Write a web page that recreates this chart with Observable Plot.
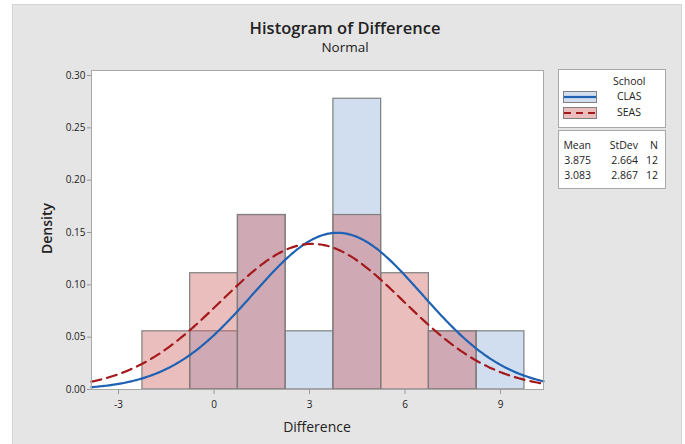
<!DOCTYPE html>
<html>
<head>
<meta charset="utf-8">
<script src="https://cdn.jsdelivr.net/npm/d3@7"></script>
<script src="https://cdn.jsdelivr.net/npm/@observablehq/plot@0.6"></script>
<style>
  body { margin: 0; background: #ffffff; font-family: "Open Sans", "Noto Sans", sans-serif; color: #222; }
  #wrap { position: relative; width: 685px; height: 444px; overflow: hidden; }
  #bg { position: absolute; left: 12px; top: 4px; width: 668px; height: 444px; background: #e5e5e5; border-left: 1px solid #d4d4d4; border-top: 1px solid #d4d4d4; border-right: 1px solid #d4d4d4; }
  .abs { position: absolute; white-space: nowrap; }
  .box { position: absolute; background: #fff; border: 1px solid #a8a8a8; }
  #chart { position: absolute; left: 0; top: 0; }
</style>
</head>
<body>
<div id="wrap">
  <div id="bg"></div>
  <div id="chart"></div>
  <div class="abs" id="title" style="left:0;width:690px;text-align:center;top:16px;font-size:16.5px;font-weight:600;color:#222;">Histogram of Difference</div>
  <div class="abs" id="subtitle" style="left:0;width:690px;text-align:center;top:38px;font-size:13.5px;font-weight:400;color:#222;">Normal</div>
  <div class="abs" id="xlabel" style="left:217px;width:200px;text-align:center;top:417px;font-size:14px;color:#222;">Difference</div>
  <div class="abs" id="ylabel" style="left:-54px;width:200px;text-align:center;top:219px;font-size:14px;font-weight:600;color:#222;transform:rotate(-90deg);">Density</div>
  <div class="box" id="legend1" style="left:558px;top:69px;width:106px;height:57px;"></div>
  <div class="box" id="legend2" style="left:558px;top:130px;width:106px;height:57px;"></div>
</div>
<script>
// ---- data ----
const binEdges = [-2.25, -0.75, 0.75, 2.25, 3.75, 5.25, 6.75, 8.25, 9.75];
const clasDensity = [0, 0.0556, 0.1667, 0.0556, 0.2778, 0, 0.0556, 0.0556];
const seasDensity = [0.0556, 0.1111, 0.1667, 0, 0.1667, 0.1111, 0.0556, 0];
const schools = ["CLAS", "SEAS"];
const means = [3.875, 3.083];
const stdevs = [2.664, 2.867];
const ns = [12, 12];
const xTicks = [-3, 0, 3, 6, 9];
const yTicks = [0, 0.05, 0.10, 0.15, 0.20, 0.25, 0.30];
const xDomain = [-3.85, 10.35];

const fills = { CLAS: "#d1deef", SEAS: "rgb(205,92,92)" };
const fillOps = { CLAS: 1, SEAS: 0.4 };
const lineColors = { CLAS: "#1f62b4", SEAS: "#a3191c" };
const dashes = { CLAS: null, SEAS: "10,6" };

const bars = [];
schools.forEach((s, si) => {
  const dens = si === 0 ? clasDensity : seasDensity;
  dens.forEach((d, i) => {
    if (d > 0) bars.push({ school: s, x1: binEdges[i], x2: binEdges[i + 1], y: d });
  });
});

const curves = [];
schools.forEach((s, si) => {
  const m = means[si], sd = stdevs[si];
  d3.range(xDomain[0], xDomain[1] + 0.001, 0.05).forEach(x => {
    curves.push({ school: s, x, y: Math.exp(-0.5 * ((x - m) / sd) ** 2) / (sd * Math.sqrt(2 * Math.PI)) });
  });
});

const plot = Plot.plot({
  width: 685, height: 444,
  marginLeft: 91, marginRight: 142, marginTop: 70, marginBottom: 55,
  style: { background: "transparent", fontFamily: "'Open Sans', 'Noto Sans', sans-serif", fontSize: "10px", color: "#222" },
  x: { domain: xDomain },
  y: { domain: [0, 0.3048] },
  marks: [
    Plot.frame({ fill: "white", stroke: "none" }),
    ...schools.map(s => Plot.rectY(bars.filter(b => b.school === s), {
      x1: "x1", x2: "x2", y: "y", fill: fills[s], fillOpacity: fillOps[s], stroke: "#7f7f7f", strokeWidth: 1.2
    })),
    ...schools.map(s => Plot.line(curves.filter(c => c.school === s), {
      x: "x", y: "y", stroke: lineColors[s], strokeWidth: 2.2, strokeDasharray: dashes[s]
    })),
    Plot.frame({ stroke: "#a8a8a8", strokeWidth: 1 }),
    Plot.axisX({ ticks: xTicks, tickFormat: d => d < 0 ? "-" + Math.abs(d) : String(d), tickSize: 5, tickPadding: 6, stroke: "#999", label: null, fontSize: 10 }),
    Plot.axisY({ ticks: yTicks, tickFormat: d => d.toFixed(2), tickSize: 4, tickPadding: 2, stroke: "#999", label: null, fontSize: 10 })
  ]
});
document.getElementById("chart").appendChild(plot);

// ---- legend 1 ----
const l1 = document.getElementById("legend1");
l1.innerHTML = `<div class="abs" style="left:54px;top:4px;font-size:10.5px;">School</div>` +
  schools.map((s, i) => {
    const y = 21 + i * 16;
    const line = dashes[s]
      ? `<line x1="1" y1="6" x2="33" y2="6" stroke="${lineColors[s]}" stroke-width="2.2" stroke-dasharray="7,5"/>`
      : `<line x1="1" y1="6" x2="33" y2="6" stroke="${lineColors[s]}" stroke-width="2.2"/>`;
    return `<svg class="abs" style="left:4px;top:${y}px;" width="35" height="12">
      <rect x="0.5" y="0.5" width="33" height="11" fill="${fills[s]}" fill-opacity="${fillOps[s]}" stroke="#7f7f7f"/>
      ${line}</svg>
      <div class="abs" style="left:58px;top:${y - 2}px;font-size:10.5px;">${s}</div>`;
  }).join("");

// ---- legend 2 ----
const l2 = document.getElementById("legend2");
const col = (txt, right, top) => `<div class="abs" style="right:${right}px;top:${top}px;font-size:10.5px;">${txt}</div>`;
let html = col("Mean", 74, 7) + col("StDev", 27, 7) + col("N", 7, 7);
schools.forEach((s, i) => {
  const t = 22 + i * 15;
  html += col(means[i].toFixed(3), 74, t) + col(stdevs[i].toFixed(3), 27, t) + col(ns[i], 7, t);
});
l2.innerHTML = html;
</script>
</body>
</html>
